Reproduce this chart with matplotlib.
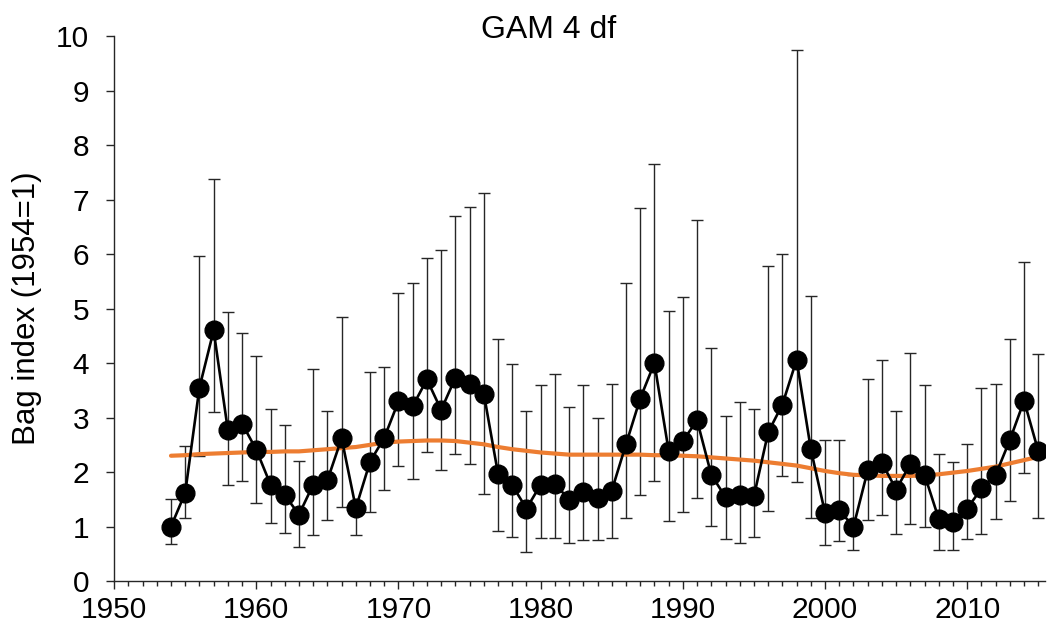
import matplotlib
matplotlib.use('Agg')
import matplotlib.pyplot as plt
from matplotlib.ticker import MultipleLocator

plt.rcParams['font.family'] = ['Liberation Sans', 'DejaVu Sans']

# --- Data ---

years = list(range(1954, 2016))

bag_index = [
    1.00, 1.62, 3.55, 4.60, 2.77, 2.89, 2.41, 1.77, 1.58, 1.22,
    1.77, 1.85, 2.62, 1.34, 2.19, 2.63, 3.30, 3.21, 3.70, 3.14,
    3.73, 3.61, 3.44, 1.97, 1.76, 1.33, 1.77, 1.79, 1.49, 1.64,
    1.53, 1.66, 2.51, 3.35, 4.00, 2.39, 2.57, 2.95, 1.95, 1.54,
    1.58, 1.56, 2.73, 3.24, 4.06, 2.42, 1.25, 1.30, 1.00, 2.03,
    2.17, 1.68, 2.15, 1.95, 1.14, 1.09, 1.33, 1.70, 1.95, 2.59,
    3.31, 2.38,
]

ci_upper = [
    1.50, 2.47, 5.97, 7.37, 4.93, 4.55, 4.13, 3.15, 2.86, 2.21,
    3.89, 3.12, 4.85, 1.45, 3.84, 3.92, 5.29, 5.47, 5.92, 6.07,
    6.70, 6.86, 7.12, 4.44, 3.99, 3.12, 3.59, 3.80, 3.19, 3.59,
    3.00, 3.61, 5.47, 6.85, 7.65, 4.95, 5.21, 6.62, 4.27, 3.03,
    3.29, 3.15, 5.78, 6.01, 9.75, 5.24, 2.58, 2.59, 1.95, 3.71,
    4.06, 3.13, 4.19, 3.60, 2.33, 2.19, 2.52, 3.55, 3.62, 4.45,
    5.85, 4.16,
]

ci_lower = [
    0.68, 1.15, 2.30, 3.10, 1.76, 1.83, 1.44, 1.06, 0.89, 0.63,
    0.84, 1.12, 1.36, 0.84, 1.27, 1.67, 2.12, 1.88, 2.37, 2.04,
    2.33, 2.14, 1.60, 0.92, 0.81, 0.54, 0.79, 0.79, 0.70, 0.75,
    0.75, 0.79, 1.15, 1.58, 1.83, 1.11, 1.27, 1.53, 1.01, 0.78,
    0.70, 0.81, 1.28, 1.93, 1.82, 1.16, 0.66, 0.74, 0.57, 1.12,
    1.21, 0.86, 1.05, 1.00, 0.57, 0.57, 0.77, 0.86, 1.14, 1.47,
    1.98, 1.16,
]

gam_trend = [
    2.30, 2.31, 2.33, 2.34, 2.35, 2.36, 2.37, 2.37, 2.38, 2.38,
    2.40, 2.42, 2.44, 2.46, 2.50, 2.54, 2.56, 2.57, 2.58, 2.58,
    2.57, 2.54, 2.51, 2.46, 2.42, 2.39, 2.36, 2.34, 2.32, 2.32,
    2.32, 2.32, 2.32, 2.32, 2.31, 2.31, 2.30, 2.29, 2.27, 2.25,
    2.23, 2.21, 2.18, 2.15, 2.12, 2.07, 2.02, 1.98, 1.95, 1.94,
    1.93, 1.93, 1.93, 1.94, 1.96, 1.99, 2.02, 2.06, 2.10, 2.16,
    2.22, 2.28,
]

# --- Plot ---

fig = plt.figure(figsize=(10.47, 6.33), dpi=100, facecolor='white')
ax = fig.add_axes([0.109, 0.082, 0.8895, 0.861])

err_lo = [v - lo for v, lo in zip(bag_index, ci_lower)]
err_hi = [hi - v for v, hi in zip(bag_index, ci_upper)]

ax.errorbar(years, bag_index, yerr=[err_lo, err_hi], fmt='none',
            ecolor='#262626', elinewidth=1.0, capsize=4.5, capthick=1.0, zorder=2)
ax.plot(years, gam_trend, color='#ED7D31', linewidth=3.0, zorder=3,
        solid_capstyle='round')
ax.plot(years, bag_index, color='black', linewidth=1.9, marker='o',
        markersize=13.5, markerfacecolor='black', markeredgecolor='black', zorder=4)

ax.set_xlim(1950, 2015.5)
ax.set_ylim(0, 10)
ax.xaxis.set_major_locator(MultipleLocator(10))
ax.xaxis.set_minor_locator(MultipleLocator(1))
ax.yaxis.set_major_locator(MultipleLocator(1))

for side in ['top', 'right']:
    ax.spines[side].set_visible(False)
for side in ['left', 'bottom']:
    ax.spines[side].set_linewidth(1.0)
    ax.spines[side].set_color('#262626')

ax.tick_params(axis='y', which='major', direction='out', length=6, width=1.0,
               color='#262626', labelsize=21.5, pad=12)
ax.tick_params(axis='x', which='major', direction='out', length=6, width=1.0,
               color='#262626', labelsize=21.5, pad=5)
ax.tick_params(axis='x', which='minor', direction='out', length=3.5, width=1.0,
               color='#262626')

ax.set_ylabel('Bag index (1954=1)', fontsize=22.5)
ax.yaxis.set_label_coords(-0.077, 0.5)
fig.text(0.5244, 0.952, 'GAM 4 df', fontsize=23, ha='center', va='center')

fig.savefig('out.png', dpi=100, facecolor='white')
